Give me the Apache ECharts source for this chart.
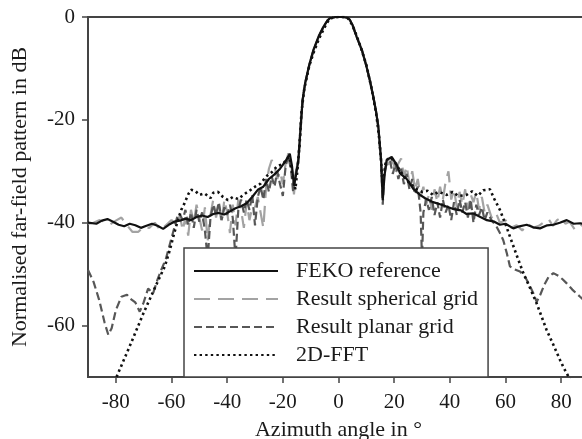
<!DOCTYPE html>
<html>
<head>
<meta charset="utf-8">
<script src="https://cdn.jsdelivr.net/npm/echarts@6/dist/echarts.min.js"></script>
<style>
html,body{margin:0;padding:0;background:#fff;}
#chart{width:582px;height:439px;}
</style>
</head>
<body>
<div id="chart"></div>
<script>
// ---- tick labels ----
const xTicks = [-80, -60, -40, -20, 0, 20, 40, 60, 80];
const yTicks = [0, -20, -40, -60];

// ---- FEKO reference (black solid) ----
const fekoAngle = [-90,-87,-85,-83,-81,-79,-77,-75,-73,-71,-69,-67,-65,-63,-61,-59,-57,-55,-53,-51,-49,-47,-45,-43,-41,-39,-37,-35,-33,-31,-29,-27,-25,-23,-21,-19,-17.5,-16.7,-16,-15.2,-14.4,-13.6,-12.9,-12,-10.5,-9,-7,-5.4,-4,-3,-1,1,3,4,5,6.5,8.5,10.1,11.3,12.5,13.5,14.3,15.3,15.9,16.5,17.3,19.1,21,22.1,24.5,27,29.3,31,34,37,41,44,46,48.5,51,53.3,56,58,60,62.8,65,67.6,70,72.4,75,77.2,79.5,82,84.5,86.8,89,90];
const fekoDb = [-40.0,-40.2,-39.6,-39.3,-39.8,-40.4,-40.7,-40.2,-40.5,-41.0,-40.6,-40.2,-40.6,-41.2,-40.4,-39.8,-39.6,-39.2,-39.5,-38.9,-38.6,-38.9,-38.3,-38.1,-38.4,-37.8,-37.2,-36.8,-36.2,-35.0,-33.6,-33.0,-31.5,-30.6,-29.5,-28.0,-26.6,-29.0,-32.8,-30.5,-27.8,-21.3,-16.1,-12.9,-9.3,-6.4,-3.6,-1.9,-0.7,-0.2,0,0,-0.1,-0.5,-1.5,-3.8,-6.6,-9.7,-12.4,-15.5,-18.4,-21.3,-27.8,-35.6,-31.0,-27.8,-27.2,-28.8,-30.4,-31.5,-33.5,-34.6,-35.2,-36.0,-36.5,-37.3,-37.6,-38.3,-38.2,-38.9,-39.5,-39.8,-40.4,-40.2,-41.1,-40.7,-40.4,-40.9,-41.1,-40.5,-40.4,-40.0,-39.5,-40.2,-40.1,-40.4,-40.2];

// ---- Result spherical grid (light grey, long dashes) ----
const spherAngle = [-90,-88,-86,-84,-82,-80,-78,-76,-74,-72,-70,-68,-66,-64,-62,-60,-58,-57,-56,-55,-54,-53,-52,-51,-50,-49,-48,-47,-46,-45,-44,-43,-42,-41,-40,-39,-38,-37,-36,-35,-34,-33,-32,-31,-30,-29,-28,-27,-26,-25,-24,-23,-22,-21,-20,-19,-18,-17.3,-16.5,-16,-15.3,-14.4,-13.6,-12.9,-12,-10.5,-9,-7,-5.4,-4,-3,-1,1,3,4,5,6.5,8.5,10.1,11.3,12.5,13.5,14.3,15.3,15.9,16.5,17.5,18.5,19.5,20.5,21.5,22.5,23.5,24.5,25.5,26.5,27.5,28.5,29.5,30.5,31.5,32.5,33.5,34.5,35.5,36.5,37.5,38.5,39.5,40.5,41.5,42.5,43.5,44.5,45.5,46.5,47.5,48.5,49.5,50.5,51.5,52.5,53.5,55,56.5,58,60,62,64,66,68,70,72,74,75.5,77,78.5,80,81.5,83,85,86.5,88,90];
const spherDb = [-40.2,-40.0,-39.5,-39.8,-40.3,-39.6,-39.0,-40.5,-41.8,-41.8,-40.8,-41.0,-40.0,-41.5,-40.5,-39.5,-40.5,-38.5,-41.5,-39.0,-42.5,-37.5,-40.0,-36.5,-39.0,-41.5,-37.0,-43.5,-38.5,-35.5,-39.0,-36.5,-40.0,-35.5,-38.0,-42.0,-36.5,-40.5,-35.5,-37.5,-41.0,-36.0,-39.5,-37.0,-37.0,-35.0,-38.0,-41.0,-33.0,-29.5,-27.8,-29.0,-31.5,-30.0,-32.5,-28.5,-26.5,-27.5,-31.0,-34.5,-30.0,-27.8,-21.4,-16.2,-13.0,-9.4,-6.5,-3.7,-1.9,-0.7,-0.2,0,0,-0.1,-0.5,-1.5,-3.8,-6.6,-9.7,-12.4,-15.5,-18.4,-21.3,-28.0,-34.0,-30.5,-28.0,-29.5,-27.5,-30.5,-28.5,-27.5,-31.0,-29.0,-32.5,-30.0,-33.5,-31.5,-35.0,-33.0,-36.5,-34.5,-37.5,-33.5,-36.0,-33.0,-35.5,-32.0,-30.0,-35.5,-33.5,-37.0,-34.0,-36.5,-33.5,-37.5,-34.5,-36.0,-34.0,-37.5,-35.0,-38.0,-36.5,-39.0,-38.0,-40.0,-39.5,-41.0,-40.5,-41.5,-40.2,-41.0,-40.6,-39.8,-39.3,-40.6,-39.5,-39.0,-40.2,-39.8,-41.4,-41.0,-40.0,-40.5];

// ---- Result planar grid (dark grey, short dashes) ----
const planarAngle = [-90,-88,-86,-84,-82.7,-81.5,-80,-78,-76,-75,-73,-71.4,-70,-68.4,-66.6,-65,-63.7,-62,-60.5,-59,-58,-57,-56,-55,-54,-53,-52,-51,-50,-49,-48,-47,-46,-45,-44,-43,-42,-41,-40,-39,-38,-37,-36,-35,-34,-33,-32,-31,-30,-29,-28,-27,-26,-25,-24,-23,-22,-21,-20,-19,-18,-17.5,-17,-16.3,-15.5,-14.5,-13.6,-12.9,-12,-10.5,-9,-7,-5.4,-4,-3,-1,1,3,4,5,6.5,8.5,10.1,11.3,12.5,13.5,14.3,15.3,15.9,16.5,17.3,18.5,19.5,20.5,21.5,22.5,23.5,24.5,25.5,26.5,27.5,28.5,29.5,30,30.5,31.5,32.5,33.5,34.5,35.5,36.5,37.5,38.5,39.5,40.5,41.5,42.5,43.5,44.5,45.5,46.5,47.5,48.5,49.5,50.5,51.5,52.5,53.5,55,56.8,58,59.2,60.5,61.6,63,65.2,67,68.5,70,71.2,72.5,74,75.5,77.2,79,80.5,82,84,86.8,88.5,90];
const planarDb = [-49.2,-51.5,-55.0,-59.5,-61.8,-60.5,-57.0,-54.4,-54.0,-54.7,-55.5,-57.3,-55.5,-52.8,-53.7,-51.0,-49.2,-47.0,-44.0,-41.0,-39.0,-38.3,-39.5,-37.5,-40.5,-38.0,-41.0,-37.5,-39.8,-38.0,-41.5,-47.0,-39.0,-36.5,-38.5,-36.0,-39.5,-37.0,-38.5,-36.5,-39.0,-47.0,-37.5,-35.5,-38.0,-35.5,-37.5,-34.5,-40.5,-35.0,-33.0,-35.5,-31.5,-34.0,-31.0,-33.0,-30.0,-32.5,-34.8,-29.0,-27.0,-28.5,-30.0,-34.0,-31.0,-28.0,-21.5,-16.3,-13.0,-9.4,-6.5,-3.7,-1.9,-0.7,-0.2,0,0,-0.1,-0.5,-1.5,-3.8,-6.6,-9.7,-12.4,-15.5,-18.4,-21.3,-28.0,-36.5,-30.0,-28.5,-28.0,-30.5,-28.5,-31.5,-29.5,-32.5,-30.5,-33.5,-31.5,-34.5,-33.0,-38.0,-47.0,-38.0,-35.5,-37.5,-35.0,-38.5,-36.0,-39.0,-35.5,-38.0,-36.5,-39.5,-36.0,-38.5,-35.5,-38.0,-36.0,-39.0,-35.5,-40.0,-36.5,-38.5,-37.0,-39.5,-38.0,-39.5,-40.8,-42.0,-43.4,-46.0,-48.5,-49.0,-49.5,-50.5,-52.0,-53.7,-55.4,-54.0,-52.0,-50.5,-49.8,-50.3,-51.0,-51.8,-53.0,-54.4,-55.2,-56.0];

// ---- 2D-FFT (black dotted) ----
const fftAngle = [-80.5,-80,-75,-70,-65,-62.4,-60.6,-59,-57.7,-56.5,-55.3,-54,-53,-51.5,-50,-48.1,-46,-45,-43.3,-41.5,-39.7,-38,-36,-34,-32,-30,-28,-26,-24,-22,-20,-18.5,-17.5,-16.5,-15.5,-14.8,-14,-13.3,-12.3,-10.5,-9,-7,-5,-3.5,-2,0,2,3.5,5,6.5,8,10,12,13.6,14.6,15.3,15.8,16.3,17,18.5,20,22,24,26,28,30,32,34,36,38.9,41,43,46,48,50,52,54.4,56,58,60,61.6,64,66.4,68.5,71.2,73,74.8,77,79.6,81,82.6,83.5];
const fftDb = [-71,-70.3,-64,-57.5,-51.5,-48.5,-45.3,-42,-39.5,-37.5,-36.2,-34.5,-33.6,-33.8,-34.6,-34.3,-35.2,-34.2,-34.0,-35.0,-35.6,-35.0,-35.4,-34.5,-33.8,-33.0,-32.4,-31.0,-30.2,-29.0,-28.6,-27.6,-27.2,-31.0,-33.5,-30.0,-25.0,-18.5,-14.0,-9.5,-7.0,-4.2,-2.0,-0.6,-0.1,0,0,-0.3,-1.6,-3.6,-5.9,-9.3,-14.2,-19.0,-23.5,-28.0,-33.0,-31.0,-28.0,-27.3,-28.0,-29.8,-31.4,-32.6,-33.5,-34.0,-33.8,-34.6,-34.0,-34.6,-34.0,-34.8,-34.6,-33.9,-34.8,-33.7,-33.5,-35.4,-37.5,-40.3,-42.7,-46.3,-49.8,-52.3,-55.7,-58.3,-60.9,-63.5,-66.7,-68.3,-69.9,-71];

const seriesNames = ['FEKO reference', 'Result spherical grid', 'Result planar grid', '2D-FFT'];

function pairs(a, b) {
  const n = Math.min(a.length, b.length);
  const out = [];
  for (let i = 0; i < n; i++) out.push([a[i], b[i]]);
  return out;
}

const serif = "'Liberation Serif', 'Times New Roman', serif";
const axisColor = '#444';
const textColor = '#1a1a1a';

const chart = echarts.init(document.getElementById('chart'), null, {renderer: 'canvas'});
chart.setOption({
  animation: false,
  backgroundColor: '#fff',
  grid: {
    left: 88, top: 17, width: 501, height: 360,
    show: true, borderColor: axisColor, borderWidth: 2,
    containLabel: false, outerBoundsMode: 'none'
  },
  xAxis: {
    type: 'value', min: -90, max: 90,
    axisLine: {show: true, onZero: false, lineStyle: {color: axisColor, width: 2}},
    axisTick: {show: true, inside: false, length: 6, customValues: xTicks, lineStyle: {color: axisColor, width: 1.5}},
    axisLabel: {customValues: xTicks, margin: 15, fontSize: 21, fontFamily: serif, color: textColor},
    splitLine: {show: false},
    name: 'Azimuth angle in °', nameLocation: 'middle', nameGap: 42,
    nameTextStyle: {fontSize: 22, fontFamily: serif, color: textColor}
  },
  yAxis: {
    type: 'value', min: -70, max: 0,
    axisLine: {show: true, onZero: false, lineStyle: {color: axisColor, width: 2}},
    axisTick: {show: true, inside: false, length: 6, customValues: yTicks, lineStyle: {color: axisColor, width: 1.5}},
    axisLabel: {customValues: yTicks, margin: 13, fontSize: 21, fontFamily: serif, color: textColor},
    splitLine: {show: false},
    name: 'Normalised far-field pattern in dB', nameLocation: 'middle', nameRotate: 90, nameGap: 57,
    nameTextStyle: {fontSize: 22, fontFamily: serif, color: textColor}
  },
  legend: {
    data: seriesNames,
    orient: 'vertical',
    left: 184, top: 248,
    padding: [12, 10, 11, 9],
    itemGap: 6,
    itemWidth: 84, itemHeight: 14,
    selectedMode: false,
    backgroundColor: '#fff',
    borderColor: axisColor, borderWidth: 1.5,
    z: 20,
    itemStyle: {opacity: 0},
    textStyle: {fontSize: 22, fontFamily: serif, color: textColor, padding: [0, 0, 0, 13], width: 187}
  },
  series: [
    {
      name: seriesNames[0], type: 'line', data: pairs(fekoAngle, fekoDb),
      symbol: 'none', clip: true, z: 4,
      lineStyle: {color: '#111', width: 2.2, type: 'solid'}
    },
    {
      name: seriesNames[1], type: 'line', data: pairs(spherAngle, spherDb),
      symbol: 'none', clip: true, z: 2,
      lineStyle: {color: '#a3a3a3', width: 2.2, type: [16, 8]}
    },
    {
      name: seriesNames[2], type: 'line', data: pairs(planarAngle, planarDb),
      symbol: 'none', clip: true, z: 3,
      lineStyle: {color: '#575757', width: 2.2, type: [8, 4]}
    },
    {
      name: seriesNames[3], type: 'line', data: pairs(fftAngle, fftDb),
      symbol: 'none', clip: true, z: 5,
      lineStyle: {color: '#111', width: 2.6, type: [2.4, 3.2], cap: 'butt'}
    }
  ]
});
</script>
</body>
</html>
